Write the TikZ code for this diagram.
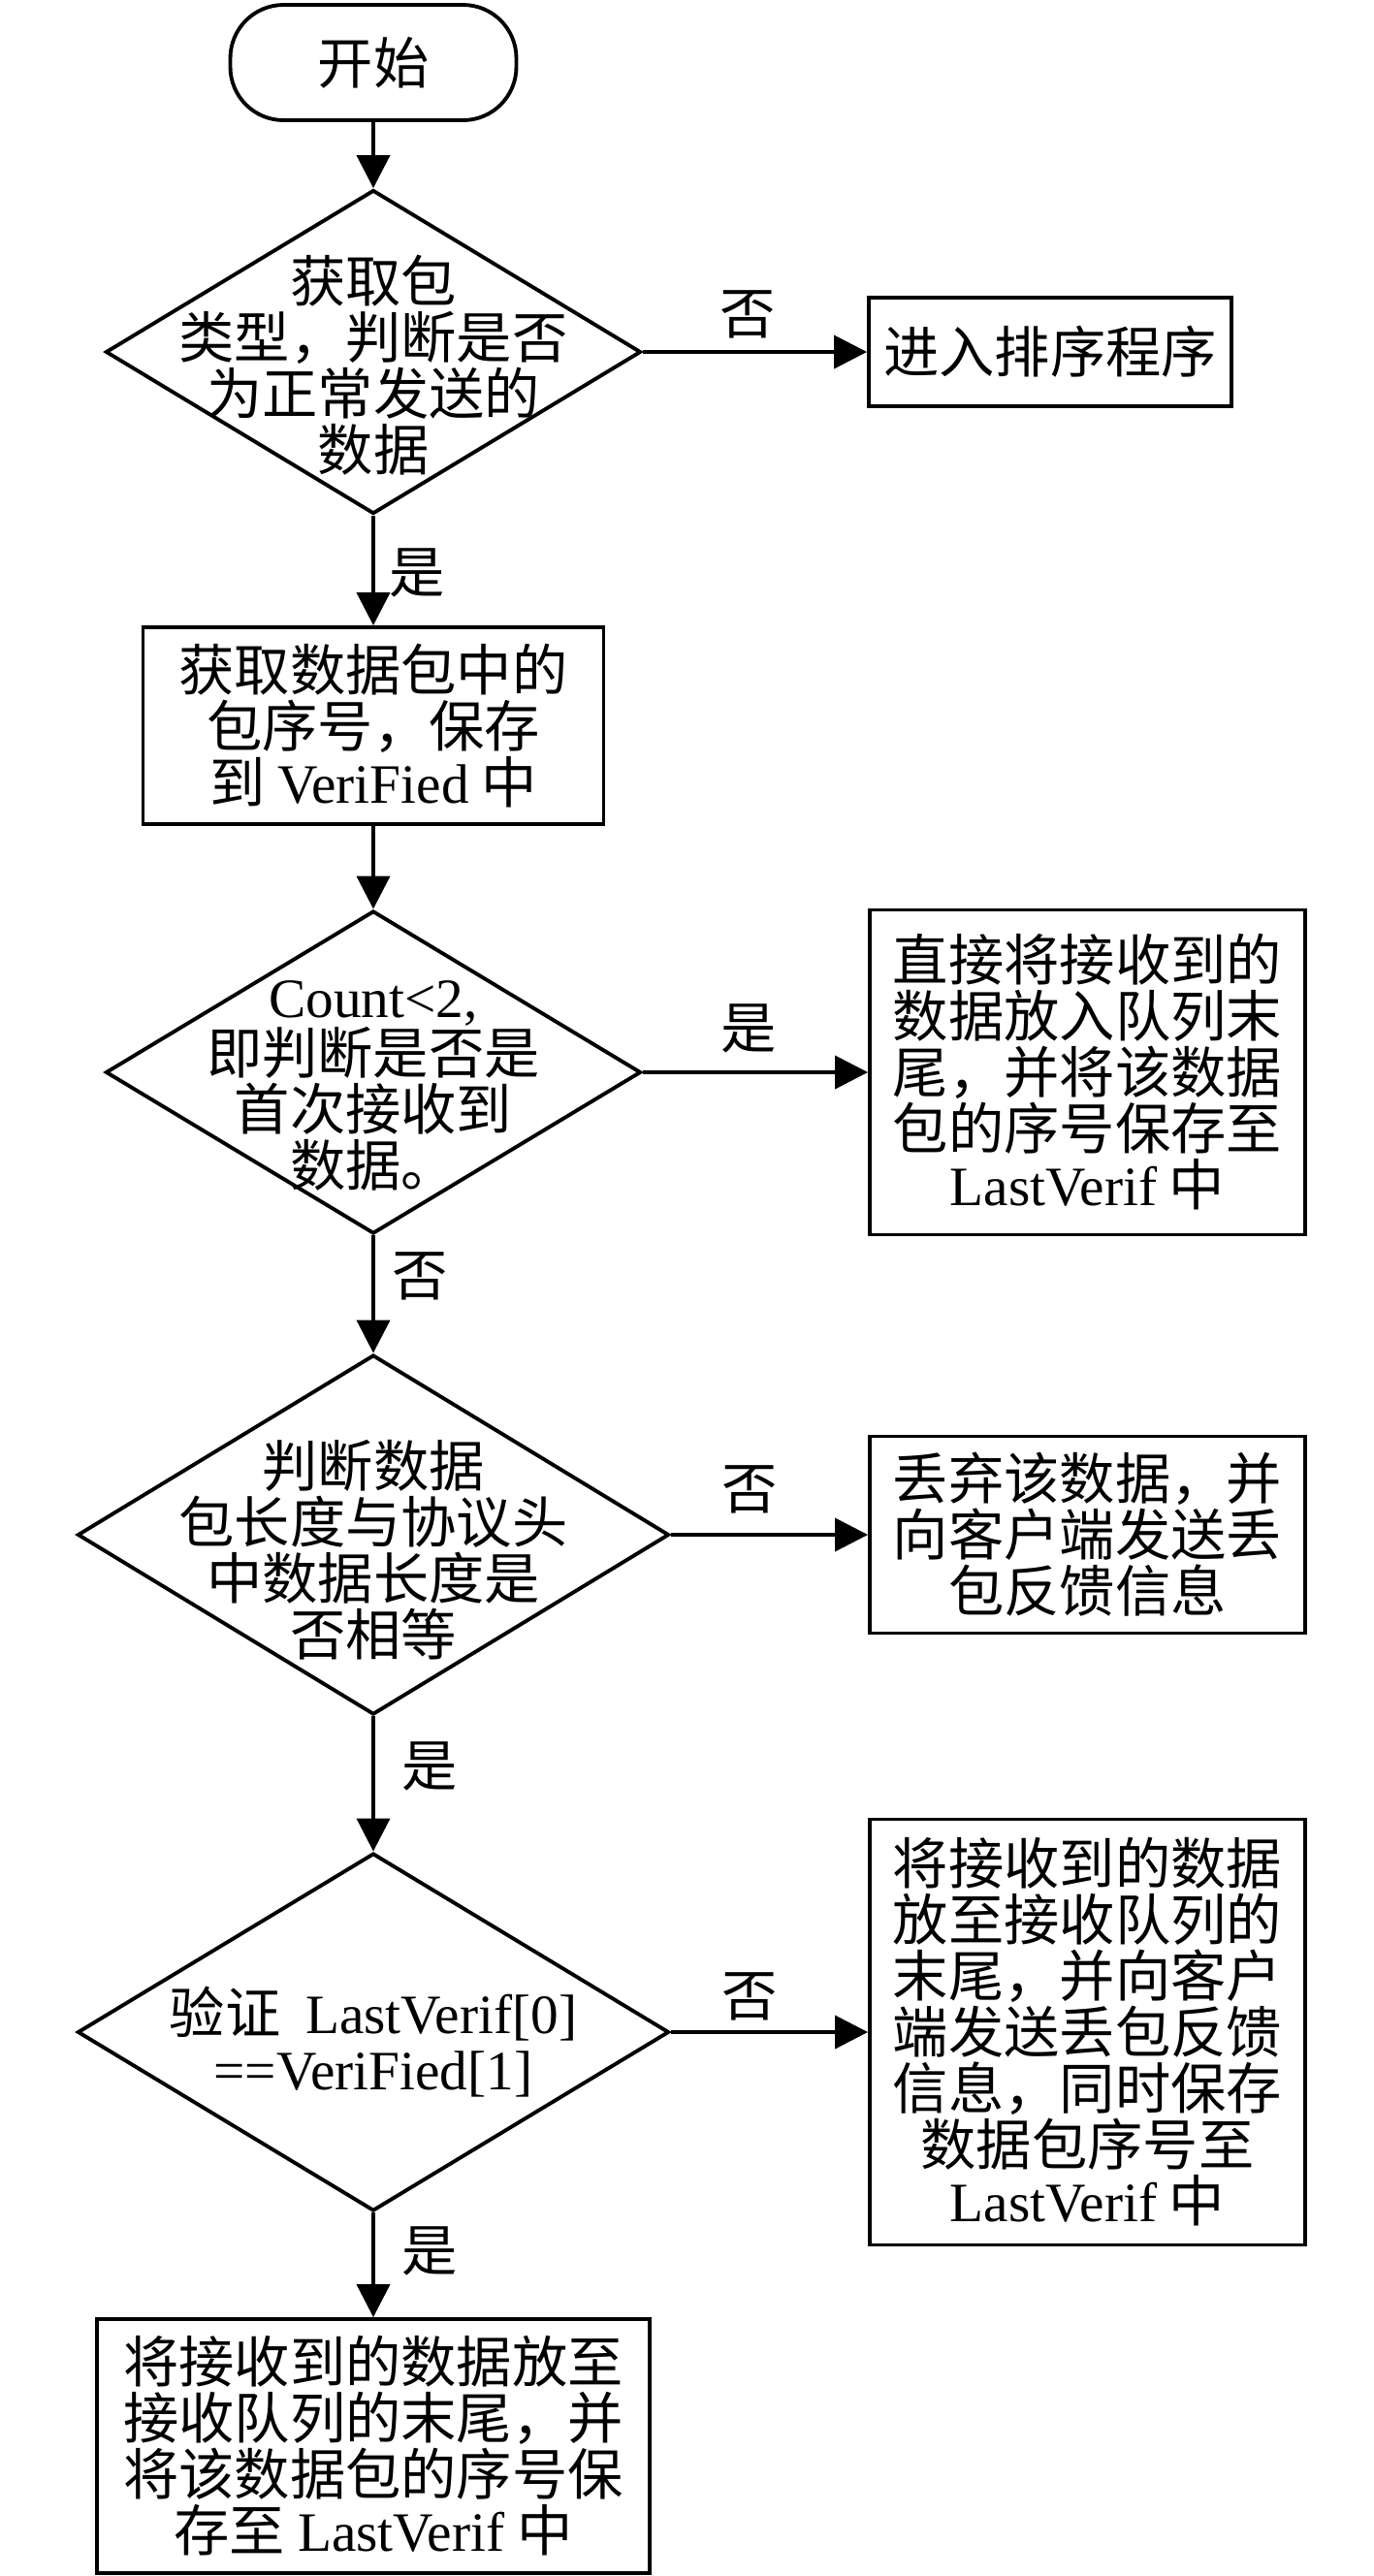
\documentclass[tikz,border=0pt]{standalone}
\usepackage{fontspec}
\setmainfont{Noto Sans CJK SC}
\newfontfamily\tnr{Liberation Serif}
\usetikzlibrary{shapes.geometric,arrows.meta}

\begin{document}
\begin{tikzpicture}[>={Triangle[length=0.34cm,width=0.34cm]}, scale=1.0,
        every node/.style={font=\fontsize{16.3}{16.5}\selectfont},
        box/.style={draw, line width=1.1pt, align=center, inner sep=0pt},
        decision/.style={draw, diamond, line width=1.1pt, inner sep=0pt},
        txt/.style={align=center, inner sep=0pt},
        flow/.style={->, line width=1.1pt},
        lab/.style={inner sep=0pt}]
        \useasboundingbox (0,0) rectangle (14.17,-26.57);
        % main column
        \node[box, rounded corners=0.55cm, minimum width=2.95cm, minimum height=1.19cm] (start) at (3.85,-0.645) {开始};
        \node[decision, minimum width=5.52cm, minimum height=3.34cm] (d1) at (3.85,-3.63) {};
        \node[txt] (t1) at (3.85,-3.77) {获取包\\类型，判断是否\\为正常发送的\\数据};
        \node[box, minimum width=4.75cm, minimum height=2.03cm] (b2) at (3.85,-7.485) {获取数据包中的\\包序号，保存\\到 {\tnr VeriFied} 中};
        \node[decision, minimum width=5.52cm, minimum height=3.33cm] (d2) at (3.85,-11.06) {};
        \node[txt] (t2) at (3.85,-11.2) {{\tnr Count<2,}\\即判断是否是\\首次接收到\\数据。};
        \node[decision, minimum width=6.1cm, minimum height=3.71cm] (d3) at (3.85,-15.83) {};
        \node[txt] (t3) at (3.85,-15.99) {判断数据\\包长度与协议头\\中数据长度是\\否相等};
        \node[decision, minimum width=6.1cm, minimum height=3.69cm] (d4) at (3.85,-20.96) {};
        \node[txt] (t4) at (3.85,-21.06) {验证\ \ {\tnr LastVerif[0]}\\{\tnr ==VeriFied[1]}};
        \node[box, minimum width=5.7cm, minimum height=2.62cm] (b6) at (3.85,-25.23) {将接收到的数据放至\\接收队列的末尾，并\\将该数据包的序号保\\存至 {\tnr LastVerif} 中};
        % right column
        \node[box, minimum width=3.74cm, minimum height=1.12cm] (b1) at (10.83,-3.63) {进入排序程序};
        \node[box, minimum width=4.49cm, minimum height=3.35cm] (b3) at (11.215,-11.06) {直接将接收到的\\数据放入队列末\\尾，并将该数据\\包的序号保存至\\{\tnr LastVerif} 中};
        \node[box, minimum width=4.49cm, minimum height=2.03cm] (b4) at (11.215,-15.83) {丢弃该数据，并\\向客户端发送丢\\包反馈信息};
        \node[box, minimum width=4.49cm, minimum height=4.39cm] (b5) at (11.215,-20.96) {将接收到的数据\\放至接收队列的\\末尾，并向客户\\端发送丢包反馈\\信息，同时保存\\数据包序号至\\{\tnr LastVerif} 中};
        % connectors
        \draw[flow] (start) -- (d1);
        \draw[flow] (d1) -- node[lab, pos=0.52, right=0.15cm] {是} (b2);
        \draw[flow] (b2) -- (d2);
        \draw[flow] (d2) -- node[lab, pos=0.35, right=0.18cm] {否} (d3);
        \draw[flow] (d3) -- node[lab, pos=0.37, right=0.28cm] {是} (d4);
        \draw[flow] (d4) -- node[lab, pos=0.37, right=0.28cm] {是} (b6);
        \draw[flow] (d1) -- node[lab, pos=0.47, above=0.12cm] {否} (b1);
        \draw[flow] (d2) -- node[lab, pos=0.47, above=0.18cm] {是} (b3);
        \draw[flow] (d3) -- node[lab, pos=0.40, above=0.2cm] {否} (b4);
        \draw[flow] (d4) -- node[lab, pos=0.40, above=0.1cm] {否} (b5);
    \end{tikzpicture}
\end{document}
